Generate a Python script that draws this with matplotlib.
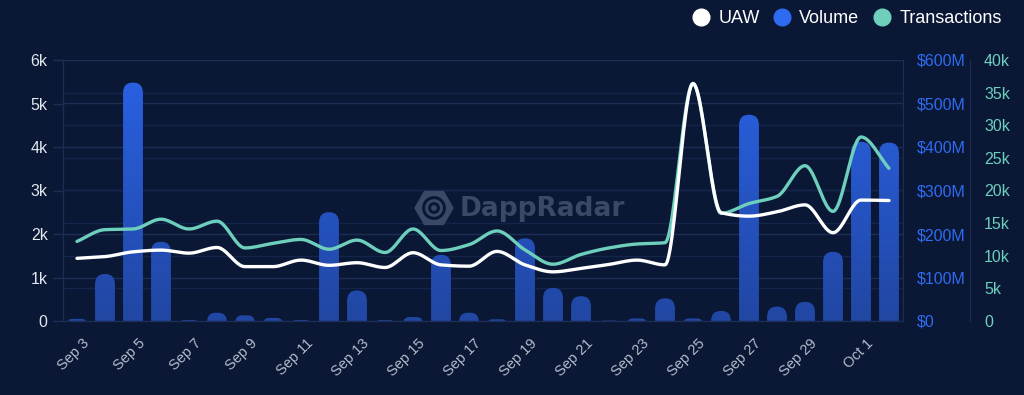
import numpy as np
import matplotlib
matplotlib.use("Agg")
import matplotlib.pyplot as plt
from matplotlib.patches import FancyBboxPatch, RegularPolygon, Circle
from matplotlib.lines import Line2D
from matplotlib.transforms import ScaledTranslation

# daily DappRadar stats, Sep 3 - Oct 2
days = ["Sep 3", "Sep 4", "Sep 5", "Sep 6", "Sep 7", "Sep 8", "Sep 9", "Sep 10",
        "Sep 11", "Sep 12", "Sep 13", "Sep 14", "Sep 15", "Sep 16", "Sep 17",
        "Sep 18", "Sep 19", "Sep 20", "Sep 21", "Sep 22", "Sep 23", "Sep 24",
        "Sep 25", "Sep 26", "Sep 27", "Sep 28", "Sep 29", "Sep 30", "Oct 1", "Oct 2"]
volume = [5, 108, 548, 182, 2, 19, 13, 7, 2, 250, 70, 2, 9, 152, 19, 4, 190, 76,
          57, 1, 6, 52, 6, 23, 474, 33, 44, 159, 412, 410]          # $M
uaw = [1.44, 1.48, 1.59, 1.63, 1.56, 1.69, 1.25, 1.25, 1.40, 1.28, 1.34, 1.23,
       1.57, 1.29, 1.26, 1.60, 1.29, 1.13, 1.21, 1.30, 1.40, 1.29, 5.46, 2.49,
       2.41, 2.51, 2.67, 2.03, 2.78, 2.77]                          # thousands
transactions = [12.2, 14.0, 14.1, 15.6, 14.1, 15.3, 11.2, 11.9, 12.5, 11.0, 12.4,
                10.5, 14.1, 10.8, 11.7, 13.8, 10.9, 8.7, 10.2, 11.2, 11.8, 12.0,
                36.4, 16.5, 18.0, 19.1, 23.8, 16.8, 28.2, 23.4]     # thousands

BG = "#0a1836"
BLUE = "#2f6bf0"
TEAL = "#6dcfbc"
GRID = "#1d2d53"
GRID2 = "#14244a"


def smooth(y, n=24):
    # monotone cubic (Fritsch-Butland) through the points
    y = np.asarray(y, float)
    x = np.arange(len(y), dtype=float)
    d = np.diff(y)
    m = np.zeros_like(y)
    m[0], m[-1] = d[0], d[-1]
    for k in range(1, len(y) - 1):
        if d[k - 1] * d[k] > 0:
            m[k] = 2.0 / (1.0 / d[k - 1] + 1.0 / d[k])
    xs, ys = [], []
    for k in range(len(y) - 1):
        t = np.linspace(0, 1, n, endpoint=False)
        h00 = 2 * t**3 - 3 * t**2 + 1
        h10 = t**3 - 2 * t**2 + t
        h01 = -2 * t**3 + 3 * t**2
        h11 = t**3 - t**2
        xs.append(x[k] + t)
        ys.append(h00 * y[k] + h10 * m[k] + h01 * y[k + 1] + h11 * m[k + 1])
    xs.append([x[-1]])
    ys.append([y[-1]])
    return np.concatenate(xs), np.concatenate(ys)


plt.rcParams["font.family"] = ["Liberation Sans", "DejaVu Sans"]

fig = plt.figure(figsize=(10.24, 3.95), dpi=100, facecolor=BG)
axv = fig.add_axes([63 / 1024, 1 - 321 / 395, 840 / 1024, 261 / 395], facecolor=BG)
axt = axv.twinx()
axu = axv.twinx()

x = np.arange(len(days))
VMAX, TMAX, UMAX = 600, 40, 6

# grid lines (all behind the bars)
for v in np.arange(0, VMAX + 1, 100):
    axv.axhline(v, color=GRID, lw=1, zorder=0)
for t in np.arange(5, TMAX, 5):
    axv.axhline(t * VMAX / TMAX, color=GRID2, lw=1, zorder=0)

# volume bars with rounded tops and a soft gradient
rects = axv.bar(x, volume, width=0.71, color="none", zorder=2)
grad = np.linspace(0, 1, 64).reshape(-1, 1)
cmap = matplotlib.colors.LinearSegmentedColormap.from_list("b", ["#2147a3", "#2a62e6"])
r = 0.33
asp = 24 / r
for rect in rects:
    h = rect.get_height()
    rr = min(r, (h + r * asp) / (2 * asp))
    patch = FancyBboxPatch((rect.get_x(), -r * asp), rect.get_width(), h + r * asp,
                           boxstyle=f"round,pad=0,rounding_size={rr}",
                           mutation_aspect=asp, facecolor="none", edgecolor="none",
                           transform=axv.transData)
    axv.add_patch(patch)
    im = axv.imshow(grad, cmap=cmap, aspect="auto", origin="lower",
                    extent=[rect.get_x(), rect.get_x() + rect.get_width(), 0, VMAX],
                    zorder=2)
    im.set_clip_path(patch)
axv.set_xlim(-0.5, len(days) - 0.5)
axv.set_ylim(0, VMAX)

# lines
tx, ty = smooth(transactions)
axt.plot(tx, ty, color=TEAL, lw=2.4, solid_capstyle="round")
axt.set_ylim(0, TMAX)
ux, uy = smooth(uaw)
axu.plot(ux, uy, color="white", lw=2.4, solid_capstyle="round")
axu.set_ylim(0, UMAX)

# left axis: UAW
axu.yaxis.set_ticks_position("left")
axu.set_yticks(np.arange(0, UMAX + 1, 1))
axu.set_yticklabels(["0"] + [f"{k}k" for k in range(1, UMAX + 1)])
axu.tick_params(axis="y", labelcolor="#e3e7ee", color=GRID, labelsize=11.5,
                length=7, width=1, pad=4)

# right axis: volume
axv.yaxis.tick_right()
axv.set_yticks(np.arange(0, VMAX + 1, 100))
axv.set_yticklabels(["$0"] + [f"${k * 100}M" for k in range(1, 7)])
axv.tick_params(axis="y", labelcolor=BLUE, labelsize=11.5, length=0, pad=10)

# far right axis: transactions
axt.spines["right"].set_position(("axes", 1.08))
axt.set_yticks(np.arange(0, TMAX + 1, 5))
axt.set_yticklabels(["0"] + [f"{k}k" for k in range(5, TMAX + 1, 5)])
axt.tick_params(axis="y", labelcolor=TEAL, labelsize=11.5, length=0, pad=10)

# x axis labels every second day
axv.set_xticks(x[::2])
axv.set_xticklabels(days[::2], rotation=45, ha="right", va="top", rotation_mode="anchor")
axv.tick_params(axis="x", labelcolor="#b5bccb", labelsize=10.5, length=0, pad=11)
off = ScaledTranslation(3.5 / 72, 0, fig.dpi_scale_trans)
for lab in axv.get_xticklabels():
    lab.set_transform(lab.get_transform() + off)
for ax in (axv, axt, axu):
    for s in ax.spines.values():
        s.set_color(GRID)
    ax.spines["top"].set_visible(False)

# watermark
fig.text(460 / 1024, 1 - 209 / 395, "DappRadar", color="#3b4866", fontsize=19,
         fontweight="bold", family="DejaVu Sans", ha="left", va="center", zorder=1)
wax = fig.add_axes([414 / 1024, 1 - 228 / 395, 40 / 1024, 40 / 395])
wax.set_xlim(-1, 1)
wax.set_ylim(-1, 1)
wax.set_aspect("equal")
wax.axis("off")
wax.add_patch(RegularPolygon((0, 0), 6, radius=0.95, orientation=np.pi / 6, color="#3b4866"))
wax.add_patch(Circle((0, 0), 0.52, fill=False, ec=BG, lw=2.2))
wax.add_patch(Circle((0, 0), 0.22, fill=False, ec=BG, lw=2.2))

# legend
handles = [Line2D([], [], ls="", marker="o", ms=12, color=c) for c in ("white", BLUE, TEAL)]
fig.legend(handles, ["UAW", "Volume", "Transactions"], loc="upper right",
           bbox_to_anchor=(0.994, 1.015), ncol=3, frameon=False, fontsize=13,
           labelcolor="white", handletextpad=0.45, columnspacing=0.75, handlelength=1.0)

fig.savefig("out.png", dpi=100, facecolor=BG)
